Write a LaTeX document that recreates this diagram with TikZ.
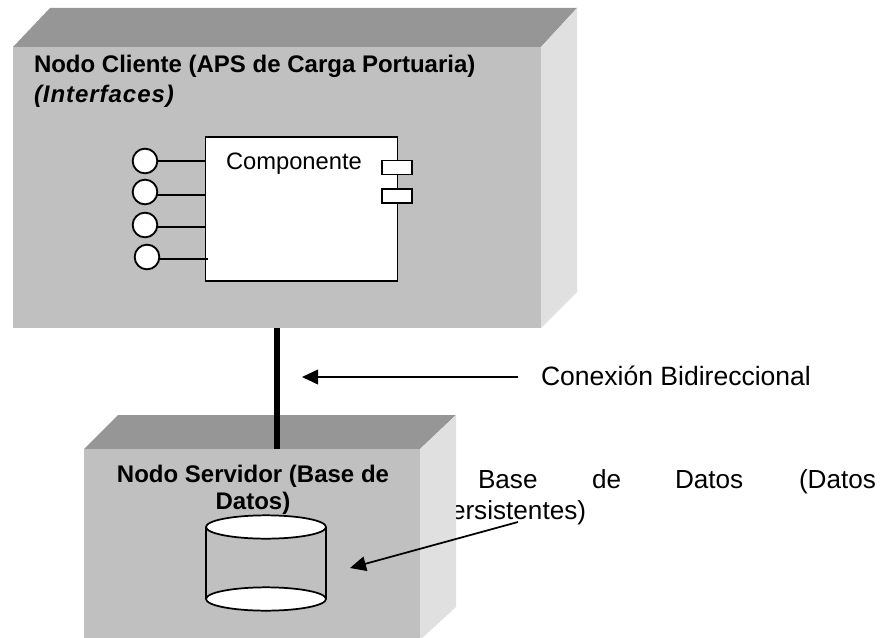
\documentclass[tikz,border=0pt]{standalone}
\usepackage{fontspec}
\setmainfont{Liberation Sans}
\usetikzlibrary{arrows.meta,shapes.geometric}
\tikzset{
  x=0.75pt,y=-0.75pt,
  front/.style={fill=frontgray,draw=none,inner sep=0pt,outer sep=0pt},
  lbl/.style={inner sep=0pt,outer sep=0pt,anchor=base west},
  regular/.style={lbl,font=\fontsize{19.6}{23}\selectfont},
  boldlbl/.style={lbl,font=\fontsize{18}{21}\selectfont\bfseries},
  iface/.style={circle,draw=black,fill=white,line width=1.4pt,minimum size=18.5pt,inner sep=0pt,outer sep=0pt},
  wire/.style={draw=black,line width=1.4pt},
  portbox/.style={rectangle,draw=black,fill=white,line width=1.2pt,minimum width=22.5pt,minimum height=10.5pt,inner sep=0pt,outer sep=0pt},
  pointer/.style={draw=black,line width=1.3pt,-{Triangle[length=12pt,width=11pt]}},
  dbcap/.style={ellipse,draw=black,fill=white,line width=1.3pt,minimum width=90pt,minimum height=17.5pt,inner sep=0pt,outer sep=0pt}
}
\definecolor{frontgray}{HTML}{C0C0C0}
\definecolor{topgray}{HTML}{969696}
\definecolor{sidegray}{HTML}{E0E0E0}
\begin{document}
\begin{tikzpicture}
\useasboundingbox (0,0) rectangle (888,638);
% text partly hidden by the server box
\node[regular] (tb0) at (478,488) {Base};
\node[regular] (tb1) at (592,488) {de};
\node[regular] (tb2) at (675,488) {Datos};
\node[regular] (tb3) at (799,488) {(Datos};
\node[regular] (tb4) at (451,519) {ersistentes)};
\node[regular,font=\fontsize{19.9}{23}\selectfont] (tcon) at (541,385) {Conexión Bidireccional};
% client
\fill[topgray] (50,8) -- (577,8) -- (541,47) -- (13,47) -- cycle;
\fill[sidegray] (577,8) -- (577,292) -- (541,328) -- (541,47) -- cycle;
\node[front,minimum width=396pt,minimum height=210.75pt] (client) at (277,187.5) {};
\node[boldlbl] (tc1) at (34,73) {Nodo Cliente (APS de Carga Portuaria)};
\node[boldlbl,font=\fontsize{18}{21}\selectfont\bfseries\itshape\addfontfeature{LetterSpace=4}] (tc2) at (34,103) {(Interfaces)};
% component
\node[rectangle,draw=black,fill=white,line width=1.4pt,minimum width=144pt,minimum height=108pt,inner sep=0pt,outer sep=0pt] (comp) at (301.5,209) {};
\node[regular,font=\fontsize{17.8}{21}\selectfont] (tcomp) at (226,170) {Componente};
\node[portbox] (p1) at (397,167.5) {};
\node[portbox] (p2) at (397,196) {};
\node[iface] (i1) at (145,161) {};
\node[iface] (i2) at (145,192) {};
\node[iface] (i3) at (145,225) {};
\node[iface] (i4) at (147,257) {};
\coordinate (e1) at (205,161);
\coordinate (e2) at (205,195);
\coordinate (e3) at (205,227);
\coordinate (e4) at (208,259);
\draw[wire] (i1) -- (e1);
\draw[wire] (i2.east |- e2) -- (e2);
\draw[wire] (i3.east |- e3) -- (e3);
\draw[wire] (i4.east |- e4) -- (e4);
% server
\fill[topgray] (118,415) -- (456,415) -- (420,449) -- (84,449) -- cycle;
\fill[sidegray] (456,415) -- (456,607) -- (420,640) -- (420,449) -- cycle;
\node[front,minimum width=252pt,minimum height=141.75pt] (server) at (252,543.5) {};
\node[inner sep=0pt,outer sep=0pt,anchor=center,align=center,font=\fontsize{18}{20}\selectfont\bfseries] (ts) at (253,489.5) {Nodo Servidor (Base de\\Datos)};
\node[dbcap] (dbtop) at (266,527) {};
\node[dbcap] (dbbot) at (266,599) {};
\draw[wire] (dbtop.west) -- (dbbot.west);
\draw[wire] (dbtop.east) -- (dbbot.east);
% link
\coordinate (lx) at (277,400);
\draw[line width=5.2pt,black] (client.south -| lx) -- (server.north -| lx);
% pointers
\coordinate (a1s) at (518,377);
\coordinate (a1e) at (302,377);
\coordinate (a2s) at (518,522);
\coordinate (a2e) at (350,568);
\draw[pointer] (a1s) -- (a1e);
\draw[pointer] (a2s) -- (a2e);
\end{tikzpicture}
\end{document}
